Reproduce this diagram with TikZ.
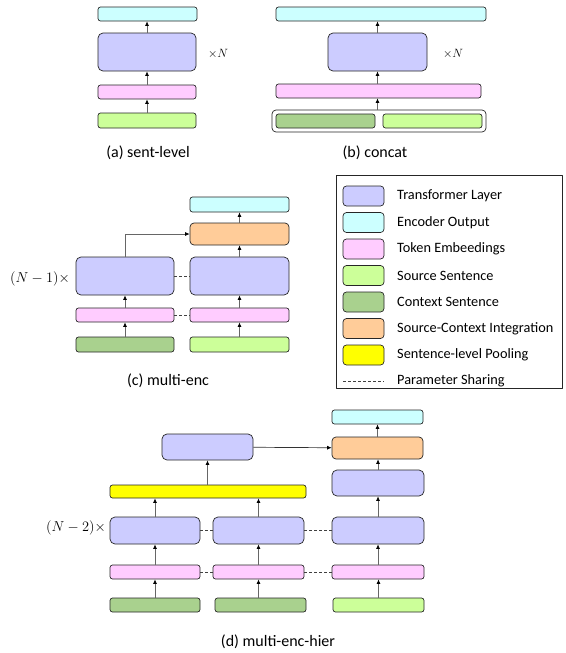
\documentclass[tikz,border=0pt]{standalone}
\usepackage{fontspec}
\setmainfont{Carlito}
\usetikzlibrary{arrows.meta}
\definecolor{tfmcol}{HTML}{CCCCFF}
\definecolor{outcol}{HTML}{CCFFFF}
\definecolor{embcol}{HTML}{FFCCFF}
\definecolor{srccol}{HTML}{CCFF99}
\definecolor{ctxcol}{HTML}{A9D18E}
\definecolor{intcol}{HTML}{FFCC99}
\definecolor{poolcol}{HTML}{FFFF00}
\tikzset{
  blk/.style={draw=black!85,line width=0.7pt,rounded corners=2.5pt,inner sep=0pt},
  tfm/.style={blk,fill=tfmcol,rounded corners=5pt},
  encout/.style={blk,fill=outcol},
  tokemb/.style={blk,fill=embcol},
  srcsent/.style={blk,fill=srccol},
  ctxsent/.style={blk,fill=ctxcol},
  integ/.style={blk,fill=intcol,rounded corners=4pt},
  pool/.style={blk,fill=poolcol},
  arr/.style={draw=black!60,line width=0.7pt,-{Latex[length=4.5pt,width=4pt,color=black]}},
  share/.style={draw=black!75,line width=0.6pt,dash pattern=on 3pt off 2pt},
  captext/.style={font=\fontsize{16}{18}\selectfont},
  reptext/.style={font=\fontsize{13.5}{15}\selectfont}
}
% box from its corners: style, name, x1, y1, x2, y2
\newcommand{\layerbox}[6]{\node[#1,minimum width={(#5-#3)*1pt},minimum height={(#6-#4)*1pt}] (#2) at ({(#3+#5)/2},{(#4+#6)/2}) {};}
\begin{document}
\begin{tikzpicture}[x=1pt,y=-1pt,line join=round,font=\fontsize{14.3}{16}\selectfont]
\useasboundingbox (0,0) rectangle (565,653);
% (a) sent-level
\layerbox{encout}{a-out}{98}{7}{197}{21}
\layerbox{tfm}{a-tfm}{98}{33}{196}{71}
\layerbox{tokemb}{a-emb}{98}{85}{196}{99}
\layerbox{srcsent}{a-src}{98}{113}{196}{128}
\draw[arr] (a-src)--(a-emb); \draw[arr] (a-emb)--(a-tfm); \draw[arr] (a-tfm)--(a-out.south-|a-tfm);
\node[font=\fontsize{12}{14}\selectfont] (a-rep) at (218,54) {$\times N$};
\node[captext] (a-cap) at (148,153) {(a) sent-level};
% (b) concat
\layerbox{encout}{b-out}{276}{7}{486}{21}
\layerbox{tfm}{b-tfm}{328}{33}{427}{71}
\layerbox{tokemb}{b-emb}{276}{84}{481}{98}
\layerbox{blk,rounded corners=4pt}{b-cat}{272}{110}{486}{132}
\layerbox{ctxsent}{b-ctx}{276}{114}{375}{128}
\layerbox{srcsent}{b-src}{383}{114}{482}{128}
\draw[arr] (b-cat.north-|b-tfm)--(b-emb.south-|b-tfm);
\draw[arr] (b-emb.north-|b-tfm)--(b-tfm);
\draw[arr] (b-tfm)--(b-out.south-|b-tfm);
\node[font=\fontsize{12}{14}\selectfont] (b-rep) at (453,54) {$\times N$};
\node[captext] (b-cap) at (375,153) {(b) concat};
% (c) multi-enc
\layerbox{encout}{c-out}{190}{197}{289}{212}
\layerbox{integ}{c-int}{190}{223}{289}{245}
\layerbox{tfm}{c-tfm1}{76}{257}{174}{295}
\layerbox{tfm}{c-tfm2}{190}{257}{289}{295}
\layerbox{tokemb}{c-emb1}{76}{308}{174}{322}
\layerbox{tokemb}{c-emb2}{190}{308}{289}{322}
\layerbox{ctxsent}{c-ctx}{76}{337}{174}{352}
\layerbox{srcsent}{c-src}{190}{337}{289}{352}
\foreach \a/\b in {c-ctx/c-emb1,c-emb1/c-tfm1,c-src/c-emb2,c-emb2/c-tfm2,c-tfm2/c-int,c-int/c-out}
{\draw[arr] (\a)--(\b);}
\draw[arr] (c-tfm1.north)|-(c-int.west);
\draw[share] (c-tfm1)--(c-tfm2); \draw[share] (c-emb1)--(c-emb2);
\node[reptext] (c-rep) at (40,279) {$(N-1)\times$};
\node[captext] (c-cap) at (168,381) {(c) multi-enc};
% legend
\draw[line width=0.7pt,draw=black!85] (336,175) rectangle (562,388);
\foreach \c/\t [count=\i from 0] in {tfmcol/Transformer Layer,outcol/Encoder Output,embcol/Token Embeedings,
  srccol/Source Sentence,ctxcol/Context Sentence,intcol/Source-Context Integration,poolcol/Sentence-level Pooling}
{\node[blk,fill=\c,rounded corners=3.5pt,minimum width=41pt,minimum height=20pt] (lg-\i) at (363.5,{196+26.5*\i}) {};
 \node[anchor=west,inner sep=0pt] (lgt-\i) at (397,{196+26.5*\i}) {\t};}
\coordinate (lg-a) at (343,381); \coordinate (lg-b) at (384,381);
\draw[share] (lg-a)--(lg-b);
\node[anchor=west,inner sep=0pt] (lgt-7) at (397,381) {Parameter Sharing};
% (d) multi-enc-hier
\layerbox{encout}{d-out}{332}{410}{423}{424}
\layerbox{integ}{d-int}{332}{437}{423}{459}
\layerbox{tfm}{d-top}{162}{434}{253}{460}
\layerbox{pool}{d-pool}{110}{485}{306}{498}
\layerbox{tfm}{d-tfm4}{332}{470}{424}{496}
\layerbox{tfm}{d-tfm1}{110}{517}{200}{544}
\layerbox{tfm}{d-tfm2}{213}{517}{304}{544}
\layerbox{tfm}{d-tfm3}{332}{517}{424}{544}
\layerbox{tokemb}{d-emb1}{110}{565}{200}{579}
\layerbox{tokemb}{d-emb2}{213}{565}{304}{579}
\layerbox{tokemb}{d-emb3}{332}{565}{424}{579}
\layerbox{ctxsent}{d-ctx1}{110}{598}{200}{612}
\layerbox{ctxsent}{d-ctx2}{215}{598}{306}{612}
\layerbox{srcsent}{d-src}{333}{598}{424}{612}
\foreach \a/\b in {d-ctx1/d-emb1,d-emb1/d-tfm1,d-emb2/d-tfm2,d-src/d-emb3,d-emb3/d-tfm3,d-tfm3/d-tfm4,d-tfm4/d-int,d-int/d-out}
{\draw[arr] (\a)--(\b.south-|\a);}
\draw[arr] (d-ctx2.north-|d-emb2)--(d-emb2);
\draw[arr] (d-tfm1)--(d-pool.south-|d-tfm1); \draw[arr] (d-tfm2)--(d-pool.south-|d-tfm2);
\draw[arr] (d-pool.north-|d-top)--(d-top);
\draw[arr,draw=black!80] (d-top)--(d-int);
\foreach \a/\b in {d-tfm1/d-tfm2,d-tfm2/d-tfm3,d-emb1/d-emb2,d-emb2/d-emb3}
{\draw[share] (\a)--(\b);}
\node[reptext] (d-rep) at (76,528) {$(N-2)\times$};
\node[captext] (d-cap) at (278,642) {(d) multi-enc-hier};
\end{tikzpicture}
\end{document}
